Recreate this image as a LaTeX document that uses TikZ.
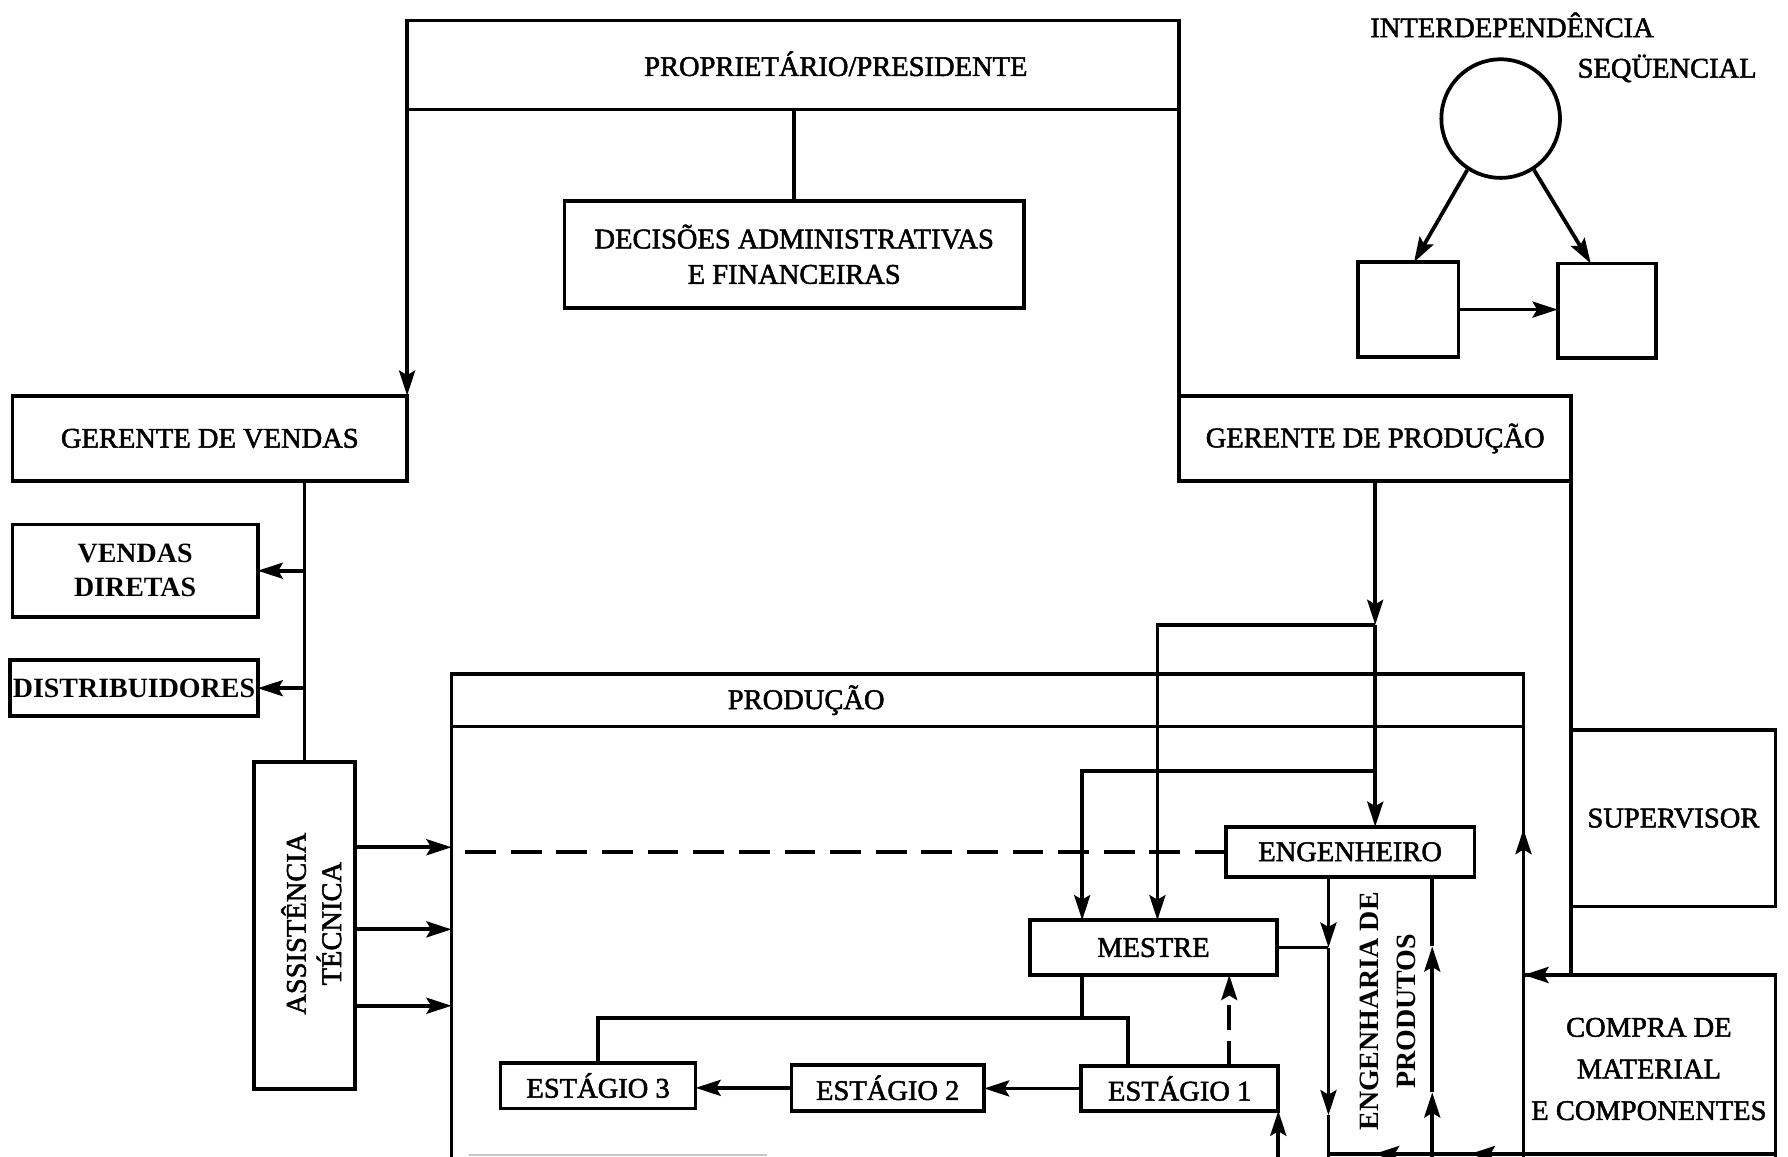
\documentclass[tikz,border=0pt]{standalone}
\usepackage{fontspec}
\setmainfont{Liberation Serif}
\newfontfamily\medf{Liberation Serif}[FakeBold=1.8]
\usetikzlibrary{arrows.meta,calc}
\tikzset{
 ln/.style={line width=3.3pt},
 box/.style={draw, line width=3.3pt, inner sep=0pt, outer sep=0pt, align=center},
 arr/.style={line width=3.3pt, -{Stealth[length=22pt,width=14pt,inset=4pt]}},
 txt/.style={inner sep=0pt, align=center},
 dsh/.style={dash pattern=on 27pt off 13pt},
 bf/.style={font=\rmfamily\bfseries\fontsize{24.5}{30}\selectfont},
}
\begin{document}
\begin{tikzpicture}[x=1pt, y=-1pt, font=\medf\fontsize{25}{31}\selectfont]
\useasboundingbox (0,0) rectangle (1568,1014);
\clip (0,0) rectangle (1568,1014);
\fill[white] (0,0) rectangle (1568,1014);

% top
\node[box, minimum width=677pt, minimum height=78pt] (pp) at (695.5,57) {};
\node[txt] (ppt) at (733,56) {PROPRIETÁRIO/PRESIDENTE};
\node[box, minimum width=403pt, minimum height=94pt] (dec) at (696.5,223) {DECISÕES ADMINISTRATIVAS\\E FINANCEIRAS};
\node[box, minimum width=346pt, minimum height=75pt] (gv) at (184,384.5) {GERENTE DE VENDAS};
\node[box, minimum width=344pt, minimum height=75pt] (gp) at (1206,384.5) {GERENTE DE PRODUÇÃO};

% interdependencia
\node[txt] (it1) at (1326,22) {INTERDEPENDÊNCIA};
\node[txt] (it2) at (1462,60) {SEQÜENCIAL};
\node[draw, circle, line width=3.3pt, minimum size=104pt, inner sep=0pt] (c) at (1316,104) {};
\node[box, minimum width=88pt, minimum height=83pt] (sa) at (1235,271.5) {};
\node[box, minimum width=86pt, minimum height=83pt] (sb) at (1409,272.5) {};
\draw[arr] (c.237) -- ([xshift=5pt]sa.north);
\draw[arr] (c.303) -- ([xshift=-14pt]sb.north);
\draw[arr] (sa.east) -- (sa.east -| sb.west);

% left
\node[box, bf, minimum width=215pt, minimum height=81pt] (vd) at (118.5,500.5) {VENDAS\\DIRETAS};
\node[box, bf, minimum width=217pt, minimum height=49pt] (dist) at (117.5,603.5) {DISTRIBUIDORES};
\node[box, minimum width=88pt, minimum height=287pt] (at) at (267,811.5) {};
\node[txt, rotate=90] (att) at (273,810) {ASSISTÊNCIA\\TÉCNICA};

% producao
\node[box, minimum width=940pt, minimum height=469pt] (prod) at (866,825.5) {};
\draw[ln] ([yshift=-46pt]prod.north west) -- ([yshift=-46pt]prod.north east);
\node[txt] (prodt) at (707,614) {PRODUÇÃO};

\node[box, minimum width=218pt, minimum height=44pt] (eng) at (1184,747) {ENGENHEIRO};
\node[box, minimum width=217pt, minimum height=48pt] (mes) at (1011.5,831) {MESTRE};
\node[box, minimum width=173pt, minimum height=39pt] (e1) at (1034.5,954.5) {ESTÁGIO 1};
\node[box, minimum width=169pt, minimum height=40pt] (e2) at (778.5,954) {ESTÁGIO 2};
\node[box, minimum width=171pt, minimum height=40pt] (e3) at (524.5,952) {ESTÁGIO 3};
\node[txt, rotate=90, font=\rmfamily\bfseries\fontsize{24.5}{32}\selectfont] (ept) at (1217,887) {ENGENHARIA DE\\PRODUTOS};

% right
\node[box, minimum width=179pt, minimum height=155pt] (sup) at (1467.5,717.5) {SUPERVISOR};
\node[box, minimum width=221pt, minimum height=205pt] (cmp) at (1446.5,957.5) {};
\node[txt, font=\medf\fontsize{25}{36.5}\selectfont] (cmpt) at (1446,937.5) {COMPRA DE\\MATERIAL\\E COMPONENTES};

% helper coordinates
\coordinate (ya1) at (0,743);
\coordinate (ya2) at (0,815);
\coordinate (ya3) at (0,882);
\coordinate (j1) at (1206,548);
\coordinate (j2) at (1206,676);
\coordinate (m1) at ([xshift=112pt]mes.north west);
\coordinate (m2) at ([xshift=46pt]mes.north west);
\coordinate (ed) at ([xshift=-19pt]eng.south);
\coordinate (eu) at ([xshift=72pt]eng.south);
\coordinate (yA) at (0,978);
\coordinate (yB) at (0,1040);
\coordinate (yC) at (0,958);
\coordinate (yD) at (0,830);
\coordinate (yH) at (0,893);
\coordinate (k1) at ([xshift=41pt]e1.north west);
\coordinate (dq) at ([xshift=43.5pt]e1.north);
\coordinate (yE) at (0,800);
\coordinate (yF) at (0,727);
\coordinate (bb) at (0,1012);
\coordinate (ba1s) at (1240,1012);
\coordinate (ba1) at (1205,1012);
\coordinate (ba2s) at (1324,1012);
\coordinate (ba2) at (1289,1012);

% top connectors
\draw[arr] (pp.south west) -- (gv.north east);
\draw[ln] (pp.south east) -- (gp.north west);
\draw[ln] (dec.north |- pp.south) -- (dec.north);

% sales side
\draw[ln] (at.north |- gv.south) -- (at.north);
\draw[arr] (vd.east -| at.north) -- (vd.east);
\draw[arr] (dist.east -| at.north) -- (dist.east);
\draw[arr] (at.east |- ya1) -- (prod.west |- ya1);
\draw[arr] (at.east |- ya2) -- (prod.west |- ya2);
\draw[arr] (at.east |- ya3) -- (prod.west |- ya3);

% production manager
\draw[arr] (gp.south) -- (j1);
\draw[arr] (j1) -- (j1 |- eng.north);
\draw[arr] (j1) -| (m1);
\draw[arr] (j2) -| (m2);
\draw[ln, dsh] (eng.west) -- (eng.west -| prod.west);

% engenharia de produtos lines
\draw[ln] (mes.east) -- (mes.east -| ed);
\draw[arr] (ed) -- (ed |- mes.east);
\draw[arr] (ed |- mes.east) -- (ed |- yA);
\draw[ln] (ed |- yA) -- (ed |- yB);
\draw[arr] (eu |- yB) -- (eu |- yC);
\draw[arr] (eu |- yC) -- (eu |- yD);
\draw[ln] (eu |- yD) -- (eu);

% mestre to stages
\draw[ln] (m2 |- mes.south) -- (m2 |- yH);
\draw[ln] (e3.north) |- (k1 |- yH) -- (k1);
\draw[arr] (e1.west) -- (e1.west -| e2.east);
\draw[arr] (e2.west) -- (e2.west -| e3.east);
\draw[arr, dash pattern=on 22pt off 10pt] (dq) -- (dq |- mes.south);
\draw[arr] (e1.south east |- yB) -- (e1.south east);

% supervisor / compra
\draw[ln] (gp.south east) -- (gp.south east |- cmp.north);
\draw[arr] (gp.south east |- cmp.north) -- (cmp.north west);
\draw[arr] (prod.east |- yE) -- (prod.east |- yF);

% bottom (cut off)
\draw[ln] (ed |- bb) -- (cmp.east |- bb);
\draw[arr] (ba1s) -- (ba1);
\draw[arr] (ba2s) -- (ba2);
\draw[gray!45, line width=1.2pt] (411,1013) -- (673,1013);
\end{tikzpicture}
\end{document}
